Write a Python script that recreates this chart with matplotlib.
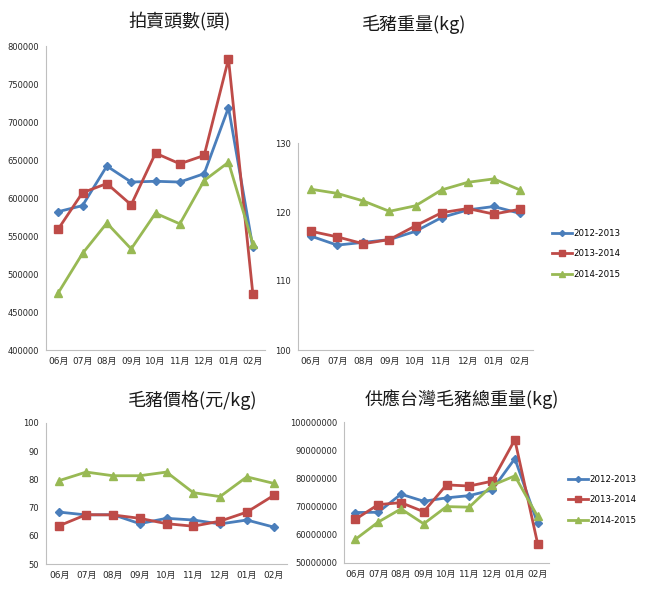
import matplotlib
matplotlib.use("Agg")
import matplotlib.pyplot as plt
from matplotlib.ticker import MultipleLocator, FuncFormatter

# 月份
months = ['06月', '07月', '08月', '09月', '10月', '11月', '12月', '01月', '02月']
seasons = ['2012-2013', '2013-2014', '2014-2015']

# 拍賣頭數(頭)
heads_1213 = [582000, 590000, 642000, 621000, 622000, 621000, 632000, 719000, 535000]
heads_1314 = [559000, 607000, 619000, 591000, 659000, 645000, 656000, 783000, 474000]
heads_1415 = [475000, 527000, 567000, 533000, 580000, 566000, 623000, 647000, 540000]

# 毛豬重量(kg)
weight_1213 = [116.5, 115.2, 115.6, 116.0, 117.2, 119.2, 120.3, 120.8, 119.8]
weight_1314 = [117.2, 116.4, 115.4, 116.0, 118.0, 119.9, 120.5, 119.7, 120.4]
weight_1415 = [123.3, 122.7, 121.6, 120.1, 120.9, 123.2, 124.3, 124.8, 123.2]

# 毛豬價格(元/kg)
price_1213 = [68.4, 67.4, 67.5, 64.3, 66.2, 65.6, 64.2, 65.6, 63.1]
price_1314 = [63.6, 67.5, 67.4, 66.2, 64.3, 63.4, 65.2, 68.4, 74.3]
price_1415 = [79.6, 82.6, 81.3, 81.3, 82.6, 75.3, 73.9, 80.9, 78.6]

# 供應台灣毛豬總重量(kg)
total_1213 = [67.9e6, 68.0e6, 74.4e6, 71.9e6, 73.1e6, 73.9e6, 75.9e6, 87.0e6, 64.1e6]
total_1314 = [65.5e6, 70.7e6, 71.4e6, 68.2e6, 77.7e6, 77.3e6, 79.0e6, 93.7e6, 56.9e6]
total_1415 = [58.4e6, 64.5e6, 69.2e6, 63.9e6, 70.0e6, 69.8e6, 77.5e6, 80.9e6, 66.5e6]

colors = ['#4A7EBB', '#BE4B48', '#98B954']
markers = ['D', 's', '^']
msizes = [3.8, 5.5, 6]

font_list = ['DejaVu Sans', 'Noto Sans CJK TC']
cjk = ['Noto Sans CJK TC', 'DejaVu Sans']

fig = plt.figure(figsize=(6.54, 6.0), dpi=100)
W, H = 654.0, 600.0


def make_axes(left, right, top, bottom):
    return fig.add_axes([left / W, 1 - bottom / H, (right - left) / W, (bottom - top) / H])


def draw(ax, series, title, ylim, step, title_xy, legend_xy=None):
    x = list(range(len(months)))
    lines = []
    for i, ys in enumerate(series):
        ln, = ax.plot(x, ys, color=colors[i], marker=markers[i], markersize=msizes[i],
                      linewidth=2.0, label=seasons[i])
        lines.append(ln)
    ax.set_xlim(-0.5, len(months) - 0.5)
    ax.set_ylim(*ylim)
    ax.yaxis.set_major_locator(MultipleLocator(step))
    ax.yaxis.set_major_formatter(FuncFormatter(lambda v, p: '%d' % v))
    ax.set_xticks(x)
    ax.set_xticklabels(months, family=font_list, fontsize=6.5)
    for lab in ax.get_yticklabels():
        lab.set_family(font_list)
        lab.set_fontsize(6)
    ax.tick_params(length=0, pad=5, colors='#262626')
    for s in ['top', 'right']:
        ax.spines[s].set_visible(False)
    for s in ['left', 'bottom']:
        ax.spines[s].set_color('#BFBFBF')
        ax.spines[s].set_linewidth(0.8)
    fig.text(title_xy[0] / W, 1 - title_xy[1] / H, title, family=cjk,
             fontsize=13, ha='center', va='center', color='#1a1a1a')
    if legend_xy is not None:
        fig.legend(handles=lines, loc='center left',
                   bbox_to_anchor=(legend_xy[0] / W, 1 - legend_xy[1] / H),
                   frameon=False, fontsize=6.2, handlelength=2.3, handletextpad=0.15,
                   labelspacing=1.3, borderpad=0, markerscale=0.8)


ax1 = make_axes(46, 265, 46, 350)
draw(ax1, [heads_1213, heads_1314, heads_1415], '拍賣頭數(頭)',
     (400000, 800000), 50000, (180, 22))

ax2 = make_axes(298, 533, 143, 350)
draw(ax2, [weight_1213, weight_1314, weight_1415], '毛豬重量(kg)',
     (100, 130), 10, (414, 24), legend_xy=(548, 254))

ax3 = make_axes(46, 287, 423, 564)
draw(ax3, [price_1213, price_1314, price_1415], '毛豬價格(元/kg)',
     (50, 100), 10, (193, 400))

ax4 = make_axes(344, 549, 422, 563)
draw(ax4, [total_1213, total_1314, total_1415], '供應台灣毛豬總重量(kg)',
     (50000000, 100000000), 10000000, (462, 399), legend_xy=(564, 500))

fig.savefig('out.png', dpi=100, facecolor='white')
